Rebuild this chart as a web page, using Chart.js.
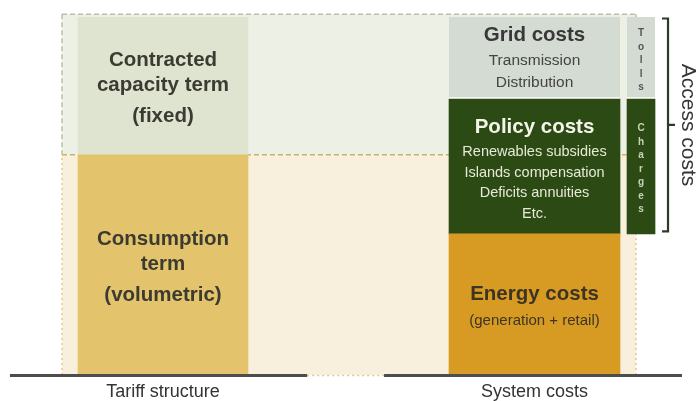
<!DOCTYPE html>
<html>
<head>
<meta charset="utf-8">
<script src="https://cdn.jsdelivr.net/npm/chart.js@4.4.1/dist/chart.umd.min.js"></script>
<style>
html,body{margin:0;padding:0;background:#fff;overflow:hidden}
canvas{display:block}
</style>
</head>
<body>
<canvas id="c" width="696" height="410" style="width:696px;height:410px"></canvas>
<script>
// ---------------- data ----------------
const categories = ['Tariff structure', 'System costs'];

const tariffParts  = ['Consumption term (volumetric)', 'Contracted capacity term (fixed)'];
const tariffValues = [61.5, 38.5];
const tariffLabels = [
  ['Consumption', 'term', '(volumetric)'],
  ['Contracted', 'capacity term', '(fixed)']
];

const costParts   = ['Energy costs', 'Policy costs', 'Grid costs'];
const costValues  = [39.4, 37.7, 22.9];
const costDetails = [
  ['(generation + retail)'],
  ['Renewables subsidies', 'Islands compensation', 'Deficits annuities', 'Etc.'],
  ['Transmission', 'Distribution']
];

const accessParts  = ['Charges', 'Tolls'];           // access costs = policy + grid
const accessValues = [costValues[1], costValues[2]];
const accessTitle  = 'Access costs';

// ---------------- styles / layout ----------------
const FONT = '"Liberation Sans", Arial, Helvetica, sans-serif';
const tariffColors = ['#e3c46c', '#dee4d0'];
const costColors   = ['#d79b24', '#2c4a14', '#d4dbd2'];
const accessColors = ['#2c4a14', '#d4dbd2'];
const X_MIN = -0.4388, X_MAX = 1.4347;
const ACCESS_X = 1.2867;
const FRAME = { left: -0.272, right: 1.2732, top: 100.8 };
const AXIS_SEGMENTS = [[-0.412, 0.388], [0.595, 1.397]];

const tariffTextStyle = { color: '#3b3b31', offsets: [-25.5, -1, 30.5] };
const costTextStyles = [
  { title: '#3d3422', sub: '#3d3422', titleDy: -10, firstGap: 26, spacing: 21, subSize: 15 },
  { title: '#f4f4ea', sub: '#e6e9d6', titleDy: -39.5, firstGap: 25, spacing: 20.7, subSize: 14.5 },
  { title: '#383838', sub: '#444444', titleDy: -23, firstGap: 26, spacing: 22, subSize: 15.5 }
];
const accessTextColors = ['#c9d1bb', '#555555'];

// ---------------- datasets ----------------
function floating(values, x, start) {
  let acc = start || 0;
  return values.map(v => { const p = { x: x, y: [acc, acc + v] }; acc += v; return p; });
}
const datasets = [];
floating(tariffValues, 0).forEach((p, i) => datasets.push({
  label: tariffParts[i], data: [p], backgroundColor: tariffColors[i],
  barThickness: 170, grouped: false, borderWidth: 0,
  textSpec: { kind: 'tariff', lines: tariffLabels[i] }
}));
floating(costValues, 1).forEach((p, i) => datasets.push({
  label: costParts[i], data: [p], backgroundColor: costColors[i],
  barThickness: 171, grouped: false, borderSkipped: false,
  borderColor: '#ffffff', borderWidth: i === 2 ? { top: 0, left: 0, right: 0, bottom: 2 } : 0,
  textSpec: { kind: 'cost', title: costParts[i], lines: costDetails[i], style: costTextStyles[i] }
}));
floating(accessValues, ACCESS_X, costValues[0]).forEach((p, i) => datasets.push({
  label: accessParts[i], data: [p], backgroundColor: accessColors[i],
  barThickness: 28, grouped: false, borderSkipped: false,
  borderColor: '#ffffff', borderWidth: i === 1 ? { top: 0, left: 0, right: 0, bottom: 2 } : 0,
  textSpec: { kind: 'access', word: accessParts[i], color: accessTextColors[i] }
}));

// ---------------- plugins ----------------
const backdrop = {
  id: 'backdrop',
  beforeDatasetsDraw(chart) {
    const { ctx, scales: { x, y } } = chart;
    const L = x.getPixelForValue(FRAME.left), R = x.getPixelForValue(FRAME.right);
    const T = y.getPixelForValue(FRAME.top), M = y.getPixelForValue(tariffValues[0]), B = y.getPixelForValue(0);
    ctx.save();
    ctx.fillStyle = '#edf1e5'; ctx.fillRect(L, T, R - L, M - T);
    ctx.fillStyle = '#f8efdd'; ctx.fillRect(L, M, R - L, B - M);
    ctx.lineWidth = 1.5;
    const seg = (x1, y1, x2, y2, color, dash) => {
      ctx.strokeStyle = color; ctx.setLineDash(dash);
      ctx.beginPath(); ctx.moveTo(x1, y1); ctx.lineTo(x2, y2); ctx.stroke();
    };
    seg(L, T, R, T, '#b8c2a4', [5, 3]);
    seg(L, T, L, M, '#b8c2a4', [5, 3]);
    seg(R, T, R, M, '#b8c2a4', [5, 3]);
    seg(L, B, L, M, '#e0cb8e', [2, 3]);
    seg(R, B, R, M, '#e0cb8e', [2, 3]);
    seg(L, M, R, M, '#c9b26a', [5, 3]);
    seg(x.getPixelForValue(AXIS_SEGMENTS[0][1]), B + 0.5, x.getPixelForValue(AXIS_SEGMENTS[1][0]), B + 0.5, '#e0cb8e', [2, 3]);
    ctx.restore();
  },
  afterDatasetsDraw(chart) {
    const { ctx, scales: { x, y } } = chart;
    const B = y.getPixelForValue(0);
    ctx.save();
    // baseline segments
    ctx.strokeStyle = '#4d4d4d'; ctx.lineWidth = 3; ctx.setLineDash([]);
    AXIS_SEGMENTS.forEach(s => {
      ctx.beginPath();
      ctx.moveTo(x.getPixelForValue(s[0]), B + 0.5);
      ctx.lineTo(x.getPixelForValue(s[1]), B + 0.5);
      ctx.stroke();
    });
    // texts on bars
    ctx.textAlign = 'center'; ctx.textBaseline = 'middle';
    chart.data.datasets.forEach((ds, i) => {
      const spec = ds.textSpec; if (!spec) return;
      const el = chart.getDatasetMeta(i).data[0];
      const cx = el.x, cy = (el.y + el.base) / 2;
      if (spec.kind === 'tariff') {
        ctx.fillStyle = tariffTextStyle.color;
        ctx.font = 'bold 20.5px ' + FONT;
        spec.lines.forEach((t, k) => ctx.fillText(t, cx, cy + tariffTextStyle.offsets[k]));
      } else if (spec.kind === 'cost') {
        const st = spec.style;
        ctx.fillStyle = st.title; ctx.font = 'bold 20.5px ' + FONT;
        ctx.fillText(spec.title, cx, cy + st.titleDy);
        ctx.fillStyle = st.sub; ctx.font = st.subSize + 'px ' + FONT;
        spec.lines.forEach((t, k) => ctx.fillText(t, cx, cy + st.titleDy + st.firstGap + k * st.spacing));
      } else if (spec.kind === 'access') {
        ctx.fillStyle = spec.color; ctx.font = 'bold 10px ' + FONT;
        const letters = spec.word.split('');
        const sp = 13.5, c0 = cy + 2.5 - (letters.length - 1) * sp / 2;
        letters.forEach((ch, k) => ctx.fillText(ch, cx, c0 + k * sp));
      }
    });
    // bracket for access costs
    const accMeta = chart.data.datasets.map((d, i) => [d, i]).filter(([d]) => d.textSpec && d.textSpec.kind === 'access');
    const elLow = chart.getDatasetMeta(accMeta[0][1]).data[0];
    const elHigh = chart.getDatasetMeta(accMeta[1][1]).data[0];
    const edge = elLow.x + elLow.width / 2;
    const top = elHigh.y + 1.5, bot = elLow.base - 2.5, mid = (top + bot) / 2;
    const vx = edge + 13;
    ctx.strokeStyle = '#2f3b26'; ctx.lineWidth = 2.2;
    ctx.beginPath();
    ctx.moveTo(edge + 7, top); ctx.lineTo(vx, top); ctx.lineTo(vx, bot); ctx.lineTo(edge + 7, bot);
    ctx.moveTo(vx, mid); ctx.lineTo(edge + 20, mid);
    ctx.stroke();
    ctx.save();
    ctx.translate(edge + 32.5, mid);
    ctx.rotate(Math.PI / 2);
    ctx.fillStyle = '#353535'; ctx.font = '21px ' + FONT;
    ctx.textAlign = 'center'; ctx.textBaseline = 'middle';
    ctx.fillText(accessTitle, 0, 0);
    ctx.restore();
    ctx.restore();
  }
};

// ---------------- chart ----------------
new Chart(document.getElementById('c'), {
  type: 'bar',
  data: { datasets },
  options: {
    responsive: false,
    maintainAspectRatio: false,
    animation: false,
    layout: { padding: { top: 17, bottom: 0, left: 0, right: 0 } },
    plugins: { legend: { display: false }, tooltip: { enabled: false } },
    scales: {
      x: {
        type: 'linear', min: X_MIN, max: X_MAX, offset: false,
        grid: { display: false, drawTicks: false, offset: false }, border: { display: false },
        afterBuildTicks: axis => { axis.ticks = categories.map((_, i) => ({ value: i })); },
        ticks: {
          autoSkip: false, maxRotation: 0, padding: 8.5,
          color: '#333333', font: { family: FONT, size: 18, lineHeight: 1 },
          callback: v => categories[Math.round(v)]
        }
      },
      y: { type: 'linear', min: 0, max: 100, display: false }
    }
  },
  plugins: [backdrop]
});
</script>
</body>
</html>
